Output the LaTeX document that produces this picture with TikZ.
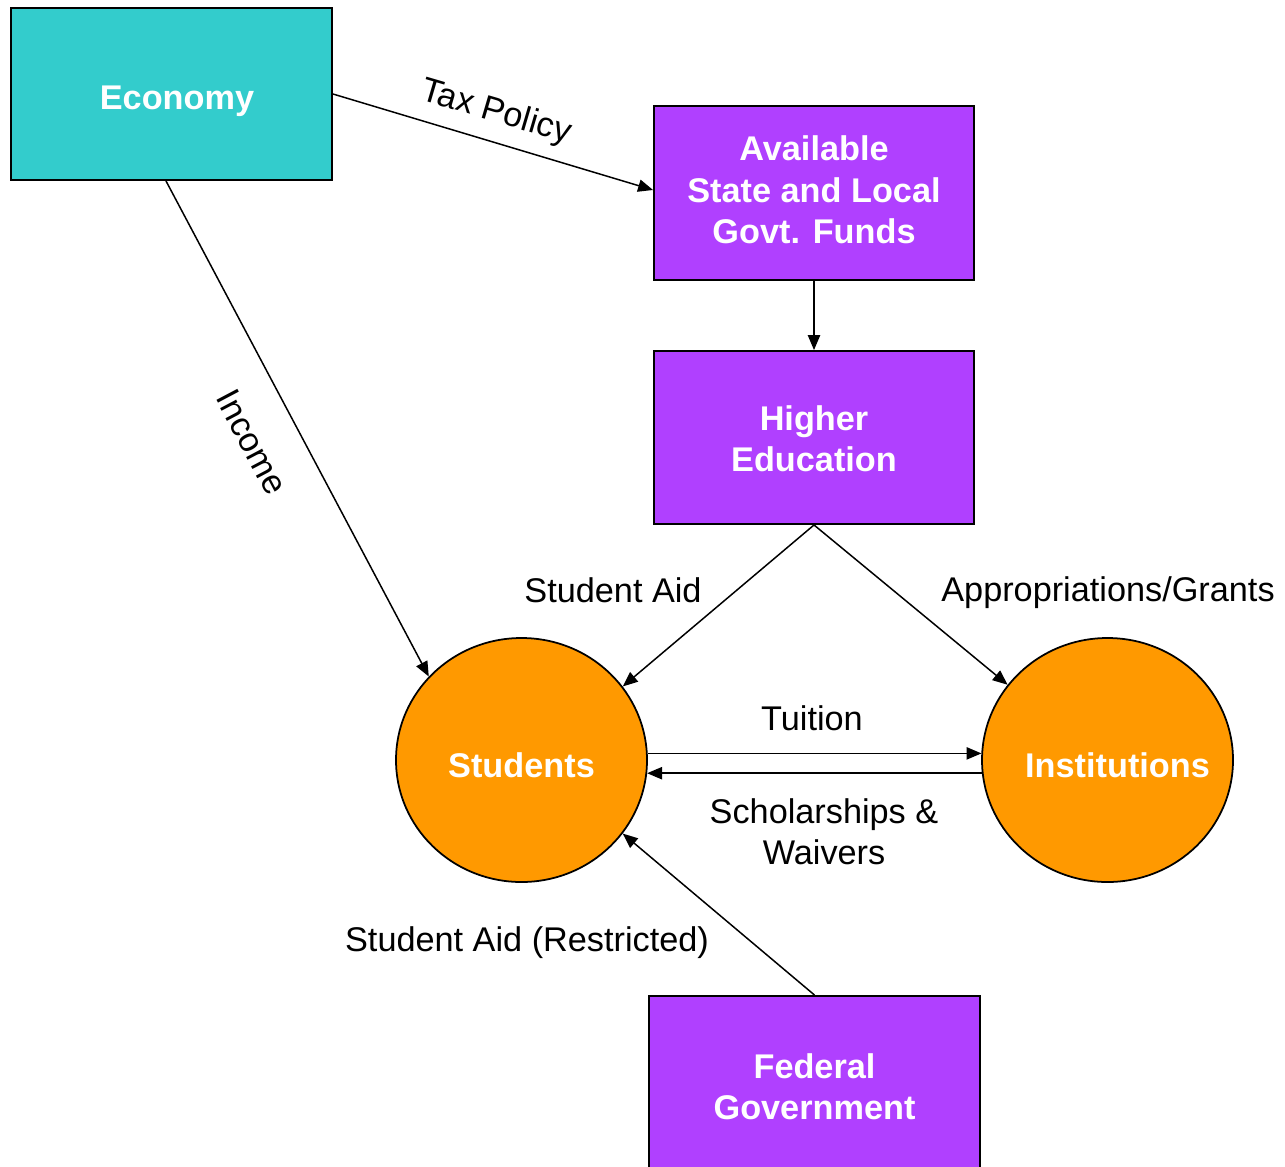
\documentclass[tikz,border=0pt]{standalone}
\usepackage{fontspec}
\setmainfont{Liberation Sans}
\usetikzlibrary{shapes.geometric,arrows.meta}
\definecolor{teal1}{RGB}{51,204,204}
\definecolor{purp}{RGB}{176,64,255}
\definecolor{orng}{RGB}{255,153,0}
\begin{document}
\begin{tikzpicture}[
  boxtxt/.style={inner sep=0pt, align=center, text=white, font=\fontsize{19.5}{23.5}\selectfont\bfseries},
  box/.style={draw=black, line width=1.1pt, rectangle, inner sep=0pt},
  circ/.style={draw=black, line width=1pt, ellipse, fill=orng, inner sep=0pt,
    minimum width=5.02cm, minimum height=4.88cm},
  lbl/.style={inner sep=0pt, align=center, font=\fontsize{19.5}{23.5}\selectfont},
  arr/.style={line width=0.85pt, -{Triangle[length=8.5pt,width=7pt]}}
]
\useasboundingbox (0,0) rectangle (25.7,-23.32);
\fill[white] (0,0) rectangle (25.7,-23.32);

\node[box, fill=teal1, minimum width=6.42cm, minimum height=3.44cm,
  label={[boxtxt, yshift=-0.14cm, xshift=0.11cm]center:Economy}] (econ) at (3.43,-1.88) {};
\node[box, fill=purp, minimum width=6.40cm, minimum height=3.48cm,
  label={[boxtxt, yshift=0.06cm]center:{Available\\State and Local\\Govt. Funds}}] (avail) at (16.28,-3.86) {};
\node[box, fill=purp, minimum width=6.40cm, minimum height=3.46cm,
  label={[boxtxt, yshift=-0.02cm]center:{Higher\\ Education}}] (higher) at (16.28,-8.75) {};
\node[box, fill=purp, minimum width=6.62cm, minimum height=3.48cm,
  label={[boxtxt, yshift=-0.08cm]center:{Federal\\Government}}] (fed) at (16.29,-21.66) {};
\node[circ, label={[boxtxt, yshift=-0.1cm]center:Students}] (stud) at (10.43,-15.2) {};
\node[circ, label={[boxtxt, yshift=-0.1cm, xshift=0.2cm]center:Institutions}] (inst) at (22.15,-15.2) {};

\draw[arr] (econ.east) -- ([yshift=0.06cm]avail.west);
\draw[arr] ([xshift=-0.11cm]econ.south) -- (stud.138.7);
\draw[arr] (avail.south) -- (higher.north);
\draw[arr] (higher.south) -- (stud.36.4);
\draw[arr] (higher.south) -- (inst.143.9);
\draw[arr] (stud.3.66) -- (inst.176.34 |- stud.3.66);
\draw[arr] (inst.186.9) -- (stud.-6.9 |- inst.186.9);
\draw[arr] (fed.north) -- (stud.-36.7);

\node[lbl, rotate=-16.4] (ltax) at (9.92,-2.26) {Tax Policy};
\node[lbl, rotate=-62.2] (linc) at (5.04,-8.84) {Income};
\node[lbl] (lsa) at (12.26,-11.8) {Student Aid};
\node[lbl] (lapp) at (22.16,-11.86) {Appropriations/Grants};
\node[lbl] (ltui) at (16.24,-14.36) {Tuition};
\node[lbl] (lsch) at (16.48,-16.64) {Scholarships \&\\Waivers};
\node[lbl] (lsar) at (10.54,-18.86) {Student Aid (Restricted)};
\end{tikzpicture}
\end{document}
